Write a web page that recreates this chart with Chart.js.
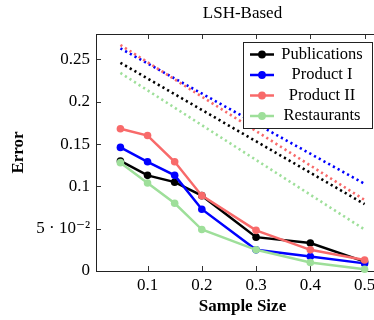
<!DOCTYPE html>
<html>
<head>
<meta charset="utf-8">
<script src="https://cdn.jsdelivr.net/npm/chart.js@4/dist/chart.umd.min.js"></script>
<style>
  html, body { margin: 0; padding: 0; background: #fff; overflow: hidden; }
  #wrap { width: 400px; height: 320px; }
</style>
</head>
<body>
<div id="wrap"><canvas id="chart" width="400" height="320"></canvas></div>
<script>
// sample sizes and measured error per data set
const sampleSizes = [0.05, 0.1, 0.15, 0.2, 0.3, 0.4, 0.5];
const publications = [0.130, 0.113, 0.105, 0.089, 0.040, 0.033, 0.011];
const productI = [0.146, 0.129, 0.113, 0.073, 0.025, 0.017, 0.009];
const productII = [0.168, 0.160, 0.129, 0.089, 0.048, 0.025, 0.013];
const restaurants = [0.128, 0.104, 0.080, 0.049, 0.025, 0.010, 0.002];

// dotted bound lines, from the smallest to the largest sample size
const boundSizes = [0.05, 0.5];
const publicationsBound = [0.246, 0.079];
const productIBound = [0.263, 0.103];
const productIIBound = [0.267, 0.084];
const restaurantsBound = [0.234, 0.049];

const xTicks = [0.1, 0.2, 0.3, 0.4, 0.5];
const yTicks = [0, 0.05, 0.1, 0.15, 0.2, 0.25];

const seriesNames = ['Publications', 'Product I', 'Product II', 'Restaurants'];
const seriesColors = ['#000000', '#0000ff', '#f86a6a', '#9edf9a'];

const SERIF = '"Liberation Serif", "DejaVu Serif", serif';

const toPoints = (xs, ys) => xs.map((x, i) => ({ x: x, y: ys[i] }));

const solid = [publications, productI, productII, restaurants];
const bounds = [publicationsBound, productIBound, productIIBound, restaurantsBound];

const datasets = [];
solid.forEach((values, i) => {
    datasets.push({
        label: seriesNames[i],
        data: toPoints(sampleSizes, values),
        borderColor: seriesColors[i],
        backgroundColor: seriesColors[i],
        borderWidth: 2.5,
        pointRadius: 3.8,
        pointBorderWidth: 0,
        pointBackgroundColor: seriesColors[i],
        tension: 0,
        clip: false,
        order: 20 - i
    });
});
bounds.forEach((values, i) => {
    datasets.push({
        label: seriesNames[i] + ' bound',
        data: toPoints(boundSizes, values),
        borderColor: seriesColors[i],
        borderWidth: 2.6,
        borderDash: [2.2, 3.2],
        pointRadius: 0,
        tension: 0,
        clip: false,
        order: 10 - i
    });
});

// axis frame, inward ticks, title and boxed legend
const framePlugin = {
    id: 'frame',
    beforeDatasetsDraw(chart) {
        const { ctx, chartArea: a, scales } = chart;
        ctx.save();
        ctx.strokeStyle = '#333';
        ctx.lineWidth = 1;
        ctx.beginPath();
        xTicks.forEach(v => {
            const px = Math.round(scales.x.getPixelForValue(v)) + 0.5;
            ctx.moveTo(px, a.bottom); ctx.lineTo(px, a.bottom - 5);
            ctx.moveTo(px, a.top); ctx.lineTo(px, a.top + 5);
        });
        yTicks.forEach(v => {
            const py = Math.round(scales.y.getPixelForValue(v)) + 0.5;
            ctx.moveTo(a.left, py); ctx.lineTo(a.left + 5, py);
            ctx.moveTo(a.right, py); ctx.lineTo(a.right - 5, py);
        });
        ctx.stroke();
        ctx.strokeStyle = '#222';
        ctx.strokeRect(Math.round(a.left) + 0.5, Math.round(a.top) + 0.5,
            Math.round(a.right - a.left), Math.round(a.bottom - a.top));
        ctx.restore();
    },
    afterDraw(chart) {
        const { ctx, chartArea: a } = chart;
        ctx.save();
        ctx.fillStyle = '#000';
        ctx.font = '17px ' + SERIF;
        ctx.textAlign = 'center';
        ctx.textBaseline = 'middle';
        ctx.fillText('LSH-Based', (a.left + a.right) / 2, 14);

        // legend box
        const boxRight = a.right - 17;
        const boxLeft = boxRight - 129;
        const boxTop = a.top + 8;
        const rowH = 20.5;
        ctx.fillStyle = '#fff';
        ctx.fillRect(boxLeft, boxTop, boxRight - boxLeft, rowH * 4 + 4);
        ctx.strokeStyle = '#222';
        ctx.lineWidth = 1;
        ctx.strokeRect(Math.round(boxLeft) + 0.5, Math.round(boxTop) + 0.5,
            Math.round(boxRight - boxLeft), Math.round(rowH * 4 + 4));
        ctx.font = '16.5px ' + SERIF;
        seriesNames.forEach((name, i) => {
            const y = boxTop + 12.5 + i * rowH;
            ctx.strokeStyle = seriesColors[i];
            ctx.lineWidth = 2.5;
            ctx.beginPath();
            ctx.moveTo(boxLeft + 7, y);
            ctx.lineTo(boxLeft + 31, y);
            ctx.stroke();
            ctx.fillStyle = seriesColors[i];
            ctx.beginPath();
            ctx.arc(boxLeft + 19, y, 3.9, 0, Math.PI * 2);
            ctx.fill();
            ctx.fillStyle = '#000';
            ctx.fillText(name, boxLeft + 79, y);
        });
        ctx.restore();
    }
};

new Chart(document.getElementById('chart'), {
    type: 'line',
    data: { datasets: datasets },
    options: {
        responsive: false,
        animation: false,
        layout: { padding: { top: 34, right: 11, left: 0, bottom: 0 } },
        plugins: {
            legend: { display: false },
            title: { display: false },
            tooltip: { enabled: false }
        },
        scales: {
            x: {
                type: 'linear',
                min: 0.005,
                max: 0.545,
                afterBuildTicks: scale => { scale.ticks = xTicks.map(v => ({ value: v })); },
                afterFit: scale => { scale.height = 49; },
                grid: { display: false, drawTicks: false },
                border: { display: false },
                ticks: {
                    color: '#000',
                    padding: 4,
                    maxRotation: 0,
                    font: { family: SERIF, size: 17 },
                    callback: v => String(v)
                },
                title: {
                    display: true,
                    text: 'Sample Size',
                    color: '#000',
                    padding: { top: 0, bottom: 3 },
                    font: { family: SERIF, size: 17, weight: 'bold' }
                }
            },
            y: {
                type: 'linear',
                min: 0,
                max: 0.28,
                afterBuildTicks: scale => { scale.ticks = yTicks.map(v => ({ value: v })); },
                afterFit: scale => { scale.width = 96; },
                grid: { display: false, drawTicks: false },
                border: { display: false },
                ticks: {
                    color: '#000',
                    padding: 6,
                    font: { family: SERIF, size: 17 },
                    callback: v => (v === 0.05 ? '5 \u00b7 10\u207b\u00b2' : String(v))
                },
                title: {
                    display: true,
                    text: 'Error',
                    color: '#000',
                    padding: { top: 8, bottom: 0 },
                    font: { family: SERIF, size: 17, weight: 'bold' }
                }
            }
        }
    },
    plugins: [framePlugin]
});
</script>
</body>
</html>
